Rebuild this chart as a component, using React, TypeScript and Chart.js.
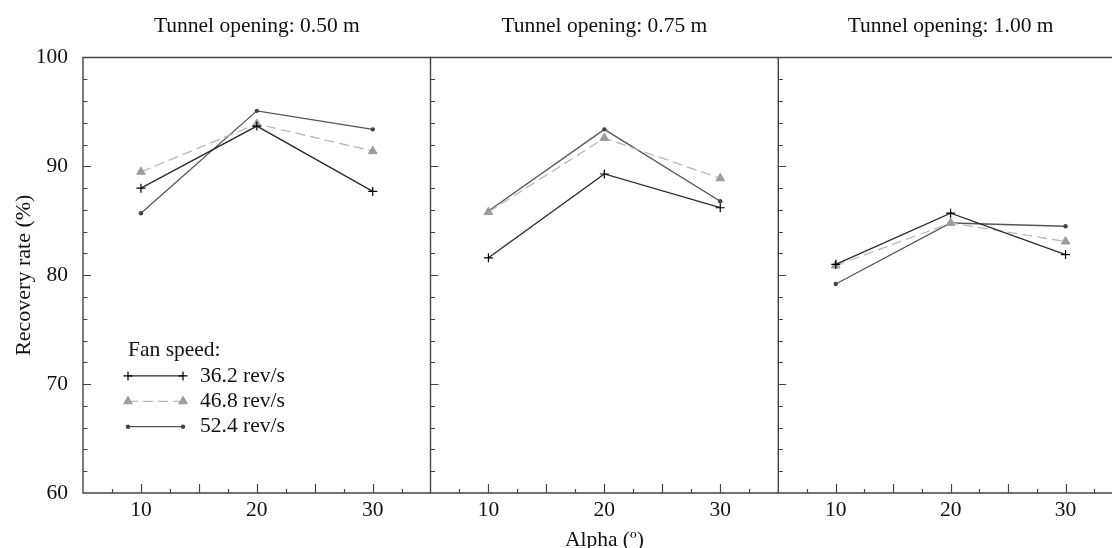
import { useEffect, useRef } from "react";
import { Chart, registerables } from "chart.js";
import { drawPoint } from "chart.js/helpers";

Chart.register(...registerables);

// ---------- data ----------
const ALPHA = [10, 20, 30];
const OPENINGS = ["0.50", "0.75", "1.00"];
const FAN_LABELS = ["36.2 rev/s", "46.8 rev/s", "52.4 rev/s"];
const X_TICK_LABELS = [10, 20, 30];
const Y_TICK_LABELS = [60, 70, 80, 90, 100];

const P050_FAN362 = [88.0, 93.7, 87.7];
const P050_FAN468 = [89.5, 93.9, 91.4];
const P050_FAN524 = [85.7, 95.1, 93.4];

const P075_FAN362 = [81.6, 89.3, 86.2];
const P075_FAN468 = [85.8, 92.6, 88.9];
const P075_FAN524 = [85.9, 93.4, 86.8];

const P100_FAN362 = [81.0, 85.7, 81.9];
const P100_FAN468 = [80.9, 84.8, 83.1];
const P100_FAN524 = [79.2, 84.8, 84.5];

const PANEL_DATA = [
  [P050_FAN362, P050_FAN468, P050_FAN524],
  [P075_FAN362, P075_FAN468, P075_FAN524],
  [P100_FAN362, P100_FAN468, P100_FAN524],
];

// ---------- layout / style ----------
const CANVAS_W = 1130;
const H = 548;
const PANEL_LEFT = [83, 430.5, 778.3];
const PANEL_W = 347.7;
const PLOT_BOTTOM = 493;
const FONT_FAMILY = "'Liberation Serif', 'Times New Roman', serif";
const TEXT_COLOR = "#111";
const FRAME_COLOR = "#444";

const SERIES_STYLE: any[] = [
  {
    borderColor: "#2a2a2a",
    borderDash: [],
    pointStyle: "cross",
    pointRadius: 4.5,
    pointBorderColor: "#000",
    pointBackgroundColor: "#000",
    pointBorderWidth: 1.2,
  },
  {
    borderColor: "#b9b9b9",
    borderDash: [10, 5],
    pointStyle: "triangle",
    pointRadius: 5,
    pointBorderColor: "#9d9d9d",
    pointBackgroundColor: "#9d9d9d",
    pointBorderWidth: 1,
  },
  {
    borderColor: "#555",
    borderDash: [],
    pointStyle: "circle",
    pointRadius: 2.2,
    pointBorderColor: "#444",
    pointBackgroundColor: "#444",
    pointBorderWidth: 0,
  },
];

const near = (a: number, b: number) => Math.abs(a - b) < 1e-6;

const framePlugin = {
  id: "frame",
  beforeDatasetsDraw(chart: any) {
    const { ctx, chartArea } = chart;
    const { left, right, top, bottom } = chartArea;
    const xs = chart.scales.x;
    const ys = chart.scales.y;
    ctx.save();
    ctx.strokeStyle = FRAME_COLOR;
    ctx.lineWidth = 1.4;
    ctx.setLineDash([]);
    ctx.beginPath();
    ctx.moveTo(right, top);
    ctx.lineTo(left, top);
    ctx.lineTo(left, bottom);
    ctx.lineTo(right, bottom);
    ctx.stroke();
    ctx.lineWidth = 1.2;
    ctx.beginPath();
    for (const t of ys.ticks) {
      const v = t.value;
      if (v <= ys.min + 1e-6 || v >= ys.max - 1e-6) continue;
      const len = near(v / 10, Math.round(v / 10)) ? 8 : 4.5;
      const y = Math.round(ys.getPixelForValue(v)) + 0.5;
      ctx.moveTo(left, y);
      ctx.lineTo(left + len, y);
    }
    for (const t of xs.ticks) {
      const v = t.value;
      if (v <= xs.min + 1e-6 || v >= xs.max - 1e-6) continue;
      const len = near(v / 5, Math.round(v / 5)) ? 9 : 4;
      const x = Math.round(xs.getPixelForValue(v)) + 0.5;
      ctx.moveTo(x, bottom);
      ctx.lineTo(x, bottom - len);
    }
    ctx.stroke();
    ctx.restore();
  },
};

const legendPlugin = {
  id: "fanLegend",
  afterDatasetsDraw(chart: any, _args: any, opts: any) {
    if (!opts || !opts.show) return;
    const { ctx, chartArea } = chart;
    const x0 = chartArea.left + 45;
    const x1 = x0 + 55;
    const textX = x1 + 17;
    const titleY = chartArea.top + 293;
    const rowH = 25.4;
    ctx.save();
    ctx.font = `21.5px ${FONT_FAMILY}`;
    ctx.fillStyle = TEXT_COLOR;
    ctx.textAlign = "left";
    ctx.textBaseline = "middle";
    ctx.fillText("Fan speed:", x0, titleY);
    chart.data.datasets.forEach((ds: any, i: number) => {
      const y = titleY + rowH * (i + 1);
      ctx.strokeStyle = ds.borderColor;
      ctx.lineWidth = ds.borderWidth;
      ctx.setLineDash(ds.borderDash || []);
      ctx.beginPath();
      ctx.moveTo(x0, y);
      ctx.lineTo(x1, y);
      ctx.stroke();
      ctx.setLineDash([]);
      ctx.fillStyle = ds.pointBackgroundColor;
      ctx.strokeStyle = ds.pointBorderColor;
      ctx.lineWidth = ds.pointBorderWidth;
      const po = {
        pointStyle: ds.pointStyle,
        radius: ds.pointRadius,
        rotation: 0,
        borderWidth: ds.pointBorderWidth,
      };
      drawPoint(ctx, po as any, x0, y);
      drawPoint(ctx, po as any, x1, y);
      ctx.fillStyle = TEXT_COLOR;
      ctx.fillText(ds.label, textX, y);
    });
    ctx.restore();
  },
};

function buildConfig(i: number): any {
  const font = { family: FONT_FAMILY, size: 21.5, lineHeight: 1 };
  const datasets = PANEL_DATA[i].map((vals, s) => ({
    label: FAN_LABELS[s],
    data: ALPHA.map((a, k) => ({ x: a, y: vals[k] })),
    borderWidth: 1.3,
    fill: false,
    tension: 0,
    ...SERIES_STYLE[s],
  }));
  return {
    type: "line",
    data: { datasets },
    plugins: [framePlugin, legendPlugin],
    options: {
      responsive: false,
      maintainAspectRatio: false,
      animation: false,
      devicePixelRatio: 1,
      events: [],
      layout: {
        padding: { left: 0, top: 0, bottom: 0, right: CANVAS_W - (PANEL_LEFT[i] + PANEL_W) },
      },
      plugins: {
        legend: { display: false },
        tooltip: { enabled: false },
        fanLegend: { show: i === 0 },
        title: {
          display: true,
          text: `Tunnel opening: ${OPENINGS[i]} m`,
          fullSize: false,
          color: TEXT_COLOR,
          font: { family: FONT_FAMILY, size: 21.5, weight: "normal", lineHeight: 1.2 },
          padding: { top: 13, bottom: 18.7 },
        },
      },
      scales: {
        x: {
          type: "linear",
          min: 5,
          max: 35,
          afterFit: (s: any) => {
            s.height = H - PLOT_BOTTOM;
          },
          grid: { display: false, drawTicks: false },
          border: { display: false },
          ticks: {
            stepSize: 2.5,
            autoSkip: false,
            maxRotation: 0,
            padding: 7,
            color: TEXT_COLOR,
            font,
            callback: (v: any) => (X_TICK_LABELS.some((t) => near(t, Number(v))) ? String(v) : ""),
          },
          title: {
            display: i === 1,
            text: "Alpha (º)",
            color: TEXT_COLOR,
            font,
            padding: { top: 0, bottom: -3 },
          },
        },
        y: {
          type: "linear",
          min: 60,
          max: 100,
          afterFit: (s: any) => {
            s.width = PANEL_LEFT[i];
          },
          grid: { display: false, drawTicks: false },
          border: { display: false },
          ticks: {
            display: i === 0,
            stepSize: 2,
            autoSkip: false,
            padding: 15,
            color: TEXT_COLOR,
            font,
            callback: (v: any) => (Y_TICK_LABELS.some((t) => near(t, Number(v))) ? String(v) : ""),
          },
          title: {
            display: i === 0,
            text: "Recovery rate (%)",
            color: TEXT_COLOR,
            font: { family: FONT_FAMILY, size: 22, lineHeight: 1 },
            padding: { top: 13, bottom: 0 },
          },
        },
      },
    },
  };
}

function Panel({ index }: { index: number }) {
  const ref = useRef<HTMLCanvasElement>(null);
  useEffect(() => {
    if (!ref.current) return;
    const chart = new Chart(ref.current, buildConfig(index));
    return () => chart.destroy();
  }, [index]);
  return (
    <canvas
      ref={ref}
      width={CANVAS_W}
      height={H}
      style={{ position: "absolute", left: 0, top: 0, width: CANVAS_W, height: H }}
    />
  );
}

export default function App() {
  return (
    <div
      style={{
        position: "fixed",
        left: 0,
        top: 0,
        width: 1112,
        height: 548,
        overflow: "hidden",
        background: "#fff",
      }}
    >
      {[0, 1, 2].map((i) => (
        <Panel key={i} index={i} />
      ))}
    </div>
  );
}
